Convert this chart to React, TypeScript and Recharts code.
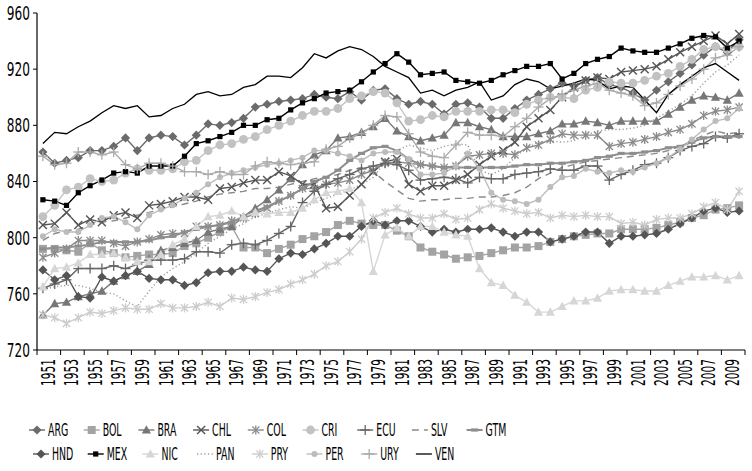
import { LineChart, Line, XAxis, YAxis } from "recharts"

const years = Array.from({ length: 60 }, (_, i) => 1951 + i)

const ARG = [861, 853, 855, 857, 862, 862, 865, 871, 862, 871, 873, 872, 866, 873, 881, 880, 882, 885, 893, 895, 897, 898, 899, 902, 900, 899, 904, 898, 905, 906, 899, 895, 897, 895, 888, 895, 896, 893, 885, 885, 892, 898, 902, 906, 910, 908, 912, 914, 909, 907, 903, 898, 905, 911, 917, 923, 930, 936, 932, 941]
const BOL = [792, 792, 791, 790, 796, 791, 789, 786, 787, 788, 788, 789, 794, 796, 800, 804, 808, 793, 793, 789, 792, 795, 799, 801, 804, 809, 812, 810, 809, 809, 805, 801, 793, 790, 788, 785, 786, 787, 789, 791, 793, 793, 794, 797, 799, 801, 802, 803, 803, 806, 806, 806, 807, 809, 811, 814, 816, 820, 821, 823]
const BRA = [745, 753, 754, 758, 760, 762, 769, 773, 776, 781, 791, 793, 796, 798, 804, 806, 808, 815, 821, 827, 834, 842, 852, 859, 862, 871, 872, 875, 879, 885, 876, 872, 869, 871, 873, 882, 882, 879, 877, 872, 872, 872, 874, 876, 881, 881, 883, 882, 880, 883, 883, 883, 883, 888, 893, 898, 901, 900, 898, 903]
const CHL = [809, 810, 818, 809, 813, 811, 816, 818, 814, 823, 824, 826, 829, 829, 827, 835, 836, 839, 841, 841, 847, 844, 838, 838, 821, 822, 830, 838, 847, 854, 856, 838, 833, 837, 837, 841, 845, 852, 858, 862, 868, 879, 885, 891, 900, 907, 912, 914, 913, 918, 919, 920, 922, 927, 932, 936, 940, 944, 938, 945]
const COL = [786, 789, 792, 798, 798, 798, 796, 794, 797, 799, 802, 803, 803, 808, 808, 809, 812, 814, 817, 821, 826, 830, 835, 835, 838, 839, 841, 845, 848, 853, 854, 853, 852, 851, 850, 851, 858, 859, 860, 860, 859, 864, 866, 870, 874, 873, 873, 873, 865, 867, 868, 870, 872, 875, 877, 881, 887, 890, 891, 893]
const CRI = [815, 823, 834, 836, 842, 840, 841, 846, 849, 848, 848, 849, 854, 855, 862, 866, 867, 870, 872, 877, 880, 883, 887, 890, 890, 892, 899, 901, 904, 903, 896, 883, 884, 887, 886, 890, 890, 890, 891, 891, 889, 895, 898, 900, 900, 899, 905, 907, 911, 910, 910, 912, 915, 917, 922, 927, 934, 936, 934, 936]
const ECU = [764, 767, 770, 778, 778, 778, 780, 778, 781, 784, 784, 784, 785, 790, 790, 789, 795, 796, 795, 798, 803, 808, 825, 833, 838, 842, 845, 849, 851, 853, 852, 848, 841, 842, 843, 842, 839, 843, 842, 842, 845, 846, 847, 849, 848, 848, 851, 851, 841, 845, 848, 852, 853, 857, 862, 865, 867, 872, 871, 874]
const SLV = [798, 803, 805, 806, 809, 811, 812, 814, 816, 818, 820, 822, 824, 826, 829, 831, 832, 833, 835, 835, 836, 838, 840, 842, 843, 845, 848, 850, 847, 840, 834, 828, 826, 827, 827, 828, 828, 829, 829, 830, 832, 836, 842, 846, 850, 852, 854, 855, 856, 857, 858, 859, 860, 862, 865, 869, 873, 876, 874, 875]
const GTM = [792, 793, 793, 794, 795, 797, 797, 797, 797, 798, 800, 801, 804, 806, 808, 809, 811, 815, 819, 822, 826, 830, 835, 840, 843, 848, 855, 860, 864, 865, 862, 856, 852, 851, 850, 850, 850, 850, 850, 850, 851, 852, 852, 853, 853, 854, 855, 857, 858, 860, 860, 861, 862, 864, 865, 868, 871, 872, 872, 872]
const HND = [777, 770, 773, 758, 757, 772, 769, 773, 776, 771, 770, 770, 766, 768, 775, 776, 776, 779, 777, 776, 785, 789, 788, 792, 796, 801, 801, 808, 812, 809, 812, 812, 808, 804, 806, 804, 806, 806, 807, 804, 801, 804, 804, 797, 799, 801, 804, 804, 796, 801, 801, 802, 803, 806, 810, 814, 819, 821, 818, 819]
const MEX = [827, 826, 823, 832, 837, 841, 846, 847, 846, 851, 851, 851, 858, 867, 869, 872, 875, 880, 880, 884, 885, 891, 896, 899, 903, 904, 905, 911, 918, 924, 931, 925, 916, 917, 918, 912, 911, 910, 912, 916, 919, 922, 922, 924, 913, 917, 924, 927, 929, 935, 933, 932, 932, 935, 938, 942, 944, 943, 935, 940]
const NIC = [765, 778, 779, 782, 788, 788, 789, 786, 783, 783, 788, 795, 799, 808, 815, 816, 819, 815, 818, 817, 818, 818, 821, 827, 832, 833, 835, 825, 776, 802, 807, 801, 808, 808, 804, 802, 801, 778, 768, 766, 759, 754, 747, 747, 751, 755, 755, 757, 762, 763, 763, 762, 762, 766, 769, 772, 772, 773, 770, 773]
const PAN = [763, 765, 766, 766, 764, 761, 760, 755, 751, 762, 772, 778, 783, 789, 796, 801, 806, 810, 815, 817, 820, 822, 821, 825, 828, 831, 834, 838, 843, 854, 862, 866, 864, 862, 865, 867, 866, 848, 845, 849, 857, 864, 868, 869, 868, 869, 873, 876, 877, 877, 878, 880, 885, 890, 895, 901, 910, 918, 923, 930]
const PRY = [745, 743, 739, 743, 747, 746, 748, 750, 749, 749, 753, 750, 750, 751, 754, 751, 757, 756, 758, 761, 763, 767, 770, 774, 780, 783, 790, 799, 814, 818, 821, 817, 814, 814, 817, 813, 814, 820, 824, 821, 819, 817, 818, 814, 816, 815, 816, 815, 815, 810, 811, 809, 813, 814, 814, 817, 822, 825, 820, 833]
const PER = [801, 806, 804, 804, 809, 814, 815, 811, 806, 816, 820, 823, 828, 832, 838, 843, 846, 848, 850, 852, 853, 855, 857, 862, 862, 860, 858, 855, 860, 861, 861, 856, 845, 845, 846, 851, 860, 849, 832, 827, 826, 824, 827, 836, 843, 844, 849, 847, 846, 848, 847, 850, 853, 857, 863, 870, 877, 883, 885, 892]
const URY = [858, 852, 853, 861, 861, 859, 861, 852, 849, 853, 853, 851, 847, 847, 845, 847, 845, 845, 851, 854, 853, 852, 853, 854, 863, 865, 871, 874, 880, 887, 886, 874, 861, 858, 857, 866, 875, 873, 873, 872, 879, 885, 893, 899, 902, 905, 908, 910, 905, 903, 901, 894, 896, 902, 908, 913, 920, 928, 930, 936]
const VEN = [867, 875, 874, 879, 883, 889, 894, 892, 894, 886, 887, 892, 895, 902, 904, 901, 902, 907, 909, 915, 915, 914, 921, 931, 928, 933, 936, 934, 929, 922, 918, 914, 903, 905, 901, 905, 907, 911, 898, 901, 909, 913, 911, 906, 908, 910, 913, 912, 906, 908, 907, 898, 889, 902, 909, 915, 921, 924, 918, 912]

const yTicks = [720, 760, 800, 840, 880, 920, 960]
const xTicks = Array.from({ length: 31 }, (_, i) => 1950.5 + i * 2)

type Shape = "diamond" | "square" | "triangle" | "x" | "star" | "circle" | "plus" | "bar" | "smallsquare" | "smallcircle" | "none"

type Series = {
  key: string
  values: number[]
  color: string
  shape: Shape
  dash?: string
  width?: number
}

const series: Series[] = [
  { key: "ARG", values: ARG, color: "#6b6b6b", shape: "diamond" },
  { key: "BOL", values: BOL, color: "#a3a3a3", shape: "square" },
  { key: "BRA", values: BRA, color: "#777777", shape: "triangle" },
  { key: "CHL", values: CHL, color: "#555555", shape: "x" },
  { key: "COL", values: COL, color: "#8a8a8a", shape: "star" },
  { key: "CRI", values: CRI, color: "#c2c2c2", shape: "circle" },
  { key: "ECU", values: ECU, color: "#666666", shape: "plus" },
  { key: "SLV", values: SLV, color: "#8a8a8a", shape: "none", dash: "7 5" },
  { key: "GTM", values: GTM, color: "#8e8e8e", shape: "bar", width: 2 },
  { key: "HND", values: HND, color: "#555555", shape: "diamond" },
  { key: "MEX", values: MEX, color: "#000000", shape: "smallsquare" },
  { key: "NIC", values: NIC, color: "#d6d6d6", shape: "triangle" },
  { key: "PAN", values: PAN, color: "#9a9a9a", shape: "none", dash: "1.2 2.4" },
  { key: "PRY", values: PRY, color: "#cccccc", shape: "star" },
  { key: "PER", values: PER, color: "#bcbcbc", shape: "smallcircle" },
  { key: "URY", values: URY, color: "#ababab", shape: "plus" },
  { key: "VEN", values: VEN, color: "#000000", shape: "none", width: 1.3 },
]

const rows = years.map((year, i) => {
  const row: Record<string, number> = { year }
  series.forEach((s) => (row[s.key] = s.values[i]))
  return row
})

// condensed face, squeezed further to get the tall narrow look of the original
const FONT = "'DejaVu Sans Condensed', 'DejaVu Sans', sans-serif"

function Marker({ cx, cy, shape, color }: { cx: number; cy: number; shape: Shape; color: string }) {
  if (cx == null || cy == null) return null
  switch (shape) {
    case "diamond":
      return <polygon points={`${cx},${cy - 4.6} ${cx + 4.6},${cy} ${cx},${cy + 4.6} ${cx - 4.6},${cy}`} fill={color} />
    case "square":
      return <rect x={cx - 4} y={cy - 4} width={8} height={8} fill={color} />
    case "smallsquare":
      return <rect x={cx - 2.6} y={cy - 2.6} width={5.2} height={5.2} fill={color} />
    case "triangle":
      return <polygon points={`${cx},${cy - 4.8} ${cx + 4.6},${cy + 3.6} ${cx - 4.6},${cy + 3.6}`} fill={color} />
    case "circle":
      return <circle cx={cx} cy={cy} r={4.4} fill={color} />
    case "smallcircle":
      return <circle cx={cx} cy={cy} r={3} fill={color} />
    case "x":
      return (
        <g stroke={color} strokeWidth={1.4}>
          <line x1={cx - 4} y1={cy - 4} x2={cx + 4} y2={cy + 4} />
          <line x1={cx - 4} y1={cy + 4} x2={cx + 4} y2={cy - 4} />
        </g>
      )
    case "star":
      return (
        <g stroke={color} strokeWidth={1.3}>
          <line x1={cx - 3.6} y1={cy - 3.6} x2={cx + 3.6} y2={cy + 3.6} />
          <line x1={cx - 3.6} y1={cy + 3.6} x2={cx + 3.6} y2={cy - 3.6} />
          <line x1={cx} y1={cy - 4.5} x2={cx} y2={cy + 4.5} />
        </g>
      )
    case "plus":
      return (
        <g stroke={color} strokeWidth={1.3}>
          <line x1={cx - 5} y1={cy} x2={cx + 5} y2={cy} />
          <line x1={cx} y1={cy - 5} x2={cx} y2={cy + 5} />
        </g>
      )
    case "bar":
      return <rect x={cx - 3.5} y={cy - 1.6} width={7} height={3.2} fill={color} />
    default:
      return null
  }
}

function YTick({ x, y, payload }: any) {
  return (
    <g transform={`translate(${x - 1},${y}) scale(0.71,1)`}>
      <text x={0} y={0} dy="0.36em" textAnchor="end" fontFamily={FONT} fontSize={19} fill="#000">
        {payload.value}
      </text>
    </g>
  )
}

function XTick({ x, y, payload }: any) {
  const label = payload.value + 0.5
  if (label > 2009) return null
  return (
    <g transform={`translate(${x + 10.8},${y + 2}) rotate(-90) scale(0.62,1)`}>
      <text x={0} y={0} dy="0.36em" textAnchor="end" fontFamily={FONT} fontSize={19} fill="#000">
        {label}
      </text>
    </g>
  )
}

function ChartLegend() {
  const rowsOfItems = [series.slice(0, 9), series.slice(9)]
  return (
    <svg width={752} height={79} style={{ display: "block" }}>
      {rowsOfItems.map((items, r) =>
        items.map((s, i) => {
          const x0 = (r === 0 ? 29 : 33) + i * 54.7
          const cy = r === 0 ? 38 : 62
          return (
            <g key={s.key}>
              <line x1={x0} y1={cy} x2={x0 + 16} y2={cy} stroke={s.color} strokeWidth={s.width ?? 1.4} strokeDasharray={s.dash} />
              <Marker cx={x0 + 8} cy={cy} shape={s.shape} color={s.color} />
              <g transform={`translate(${x0 + 19},${cy}) scale(0.58,1)`}>
                <text x={0} y={0} dy="0.36em" fontFamily={FONT} fontSize={18} fill="#000">
                  {s.key}
                </text>
              </g>
            </g>
          )
        }),
      )}
    </svg>
  )
}

export default function App() {
  return (
    <div style={{ position: "absolute", left: 0, top: 0, width: 752, height: 471, background: "#fff" }}>
      <LineChart width={752} height={392} data={rows} margin={{ top: 13, right: 7, bottom: 0, left: 0 }}>
        <XAxis
          dataKey="year"
          type="number"
          domain={[1950.5, 2010.5]}
          ticks={xTicks}
          interval={0}
          height={42}
          tickSize={5}
          axisLine={{ stroke: "#000", strokeWidth: 1.2 }}
          tickLine={{ stroke: "#000" }}
          tick={<XTick />}
        />
        <YAxis
          domain={[720, 960]}
          ticks={yTicks}
          interval={0}
          width={37}
          tickSize={4}
          axisLine={{ stroke: "#000", strokeWidth: 1.2 }}
          tickLine={{ stroke: "#000" }}
          tick={<YTick />}
        />
        {series.map((s) => (
          <Line
            key={s.key}
            dataKey={s.key}
            type="linear"
            stroke={s.color}
            strokeWidth={s.width ?? 1.4}
            strokeDasharray={s.dash}
            isAnimationActive={false}
            activeDot={false}
            dot={
              s.shape === "none"
                ? false
                : (p: any) => <Marker key={`${s.key}-${p.index}`} cx={p.cx} cy={p.cy} shape={s.shape} color={s.color} />
            }
          />
        ))}
      </LineChart>
      <ChartLegend />
    </div>
  )
}
